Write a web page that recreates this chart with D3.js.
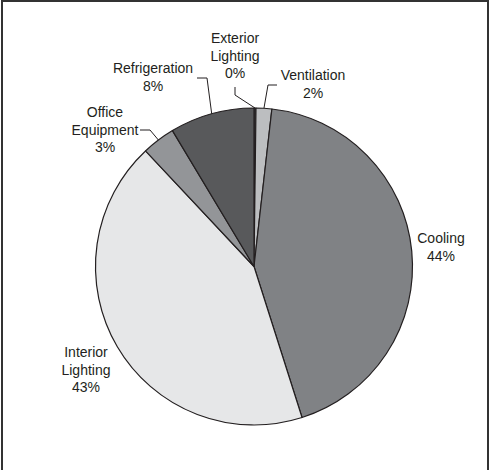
<!DOCTYPE html>
<html>
<head>
<meta charset="utf-8">
<script src="https://cdn.jsdelivr.net/npm/d3@7"></script>
<style>
  html, body { margin: 0; padding: 0; background: #fff; }
  svg { display: block; }
  text { font-family: "Liberation Sans", Arial, sans-serif; font-size: 14px; fill: #231f20; }
</style>
</head>
<body>
<svg id="chart" width="490" height="470"></svg>
<script>
// ---- data ----
const categories = ["Exterior Lighting", "Ventilation", "Cooling", "Interior Lighting", "Office Equipment", "Refrigeration"];
const values = [0.2, 1.6, 43.3, 42.9, 3.4, 8.6];
const percentLabels = ["0%", "2%", "44%", "43%", "3%", "8%"];
const nameLines = [["Exterior", "Lighting"], ["Ventilation"], ["Cooling"], ["Interior", "Lighting"], ["Office", "Equipment"], ["Refrigeration"]];
const colors = ["#414042", "#bcbec0", "#808285", "#e6e7e8", "#939598", "#58595b"];

// ---- layout ----
const W = 490, H = 470;
const cx = 254, cy = 266.5, R = 158.5;
const lineH = 17.5;
// label layout: text centre x, first baseline y, leader polyline (after arc point), or null
const labelLayout = [
  { x: 235, y: 43, leader: [[235, 95], [235, 87]] },
  { x: 313, y: 80, leader: [[268, 85], [277, 85]] },
  { x: 441, y: 243, leader: null },
  { x: 86, y: 357, leader: null },
  { x: 105, y: 117, leader: [[150, 130], [140, 130]] },
  { x: 153, y: 73, leader: [[207, 78], [197, 78]] }
];

const svg = d3.select("#chart");

// frame
svg.append("path")
  .attr("d", `M2,${H} L2,1 L488,1 L488,${H}`)
  .attr("fill", "none")
  .attr("stroke", "#333")
  .attr("stroke-width", 2);

const pie = d3.pie().sort(null).value(d => d);
const arcs = pie(values);
const arc = d3.arc().innerRadius(0).outerRadius(R);

const g = svg.append("g").attr("transform", `translate(${cx},${cy})`);
g.selectAll("path.slice")
  .data(arcs)
  .join("path")
  .attr("class", "slice")
  .attr("d", arc)
  .attr("fill", (d, i) => colors[i])
  .attr("stroke", "#231f20")
  .attr("stroke-width", 1.2)
  .attr("stroke-linejoin", "round");

// labels
arcs.forEach((a, i) => {
  const L = labelLayout[i];
  if (L.leader) {
    const mid = (a.startAngle + a.endAngle) / 2;
    const p0 = [cx + R * Math.sin(mid), cy - R * Math.cos(mid)];
    const pts = [p0].concat(L.leader);
    svg.append("path")
      .attr("d", d3.line()(pts))
      .attr("fill", "none")
      .attr("stroke", "#231f20")
      .attr("stroke-width", 1);
  }
  const lines = nameLines[i].concat([percentLabels[i]]);
  const t = svg.append("text").attr("text-anchor", "middle");
  lines.forEach((s, k) => {
    t.append("tspan").attr("x", L.x).attr("y", L.y + k * lineH).text(s);
  });
});
</script>
</body>
</html>
